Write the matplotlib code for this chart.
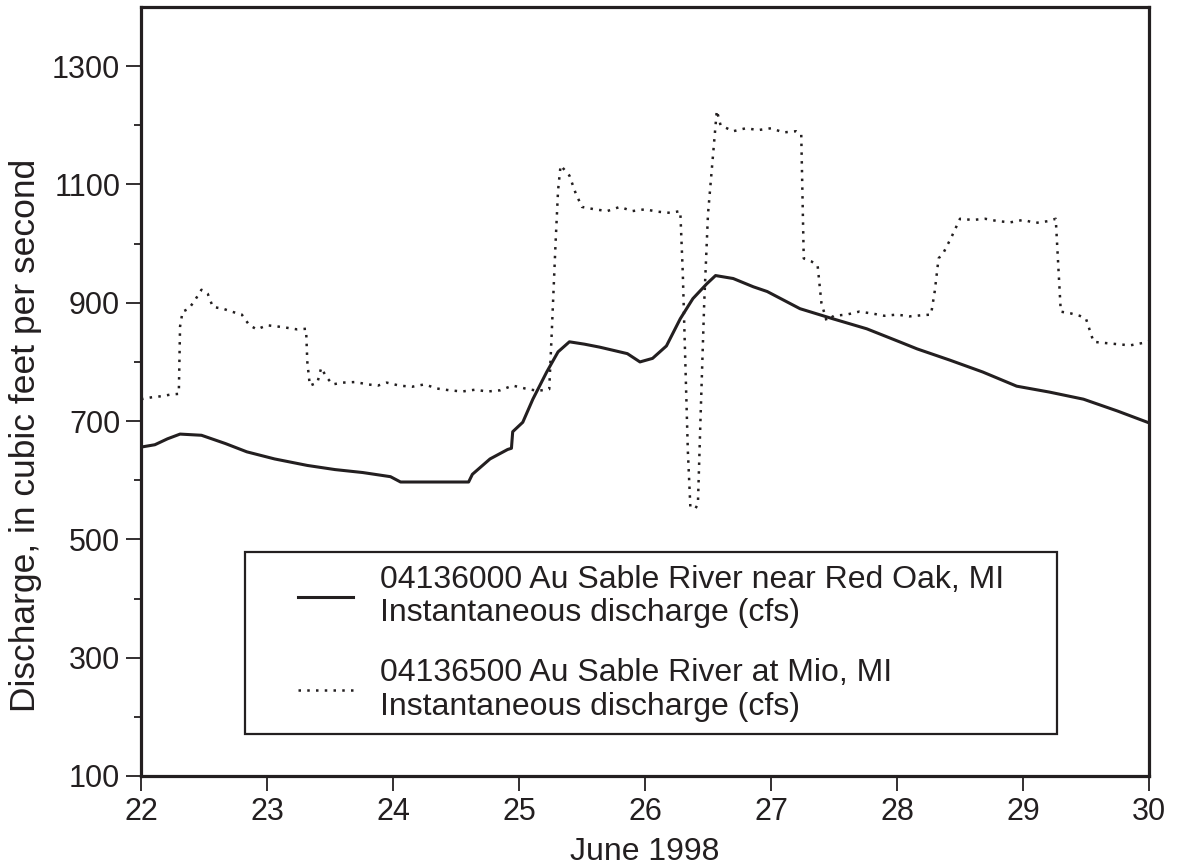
import matplotlib
matplotlib.use("Agg")
import matplotlib.pyplot as plt
from matplotlib.legend_handler import HandlerLine2D

plt.rcParams["font.family"] = ["Liberation Sans", "DejaVu Sans"]

INK = "#231f20"

# 04136000 Au Sable River near Red Oak, MI (day of June 1998, cfs)
red_oak_day = [22.00, 22.11, 22.21, 22.31, 22.48, 22.67, 22.84, 23.06, 23.32, 23.54,
               23.76, 23.98, 24.06, 24.60, 24.63, 24.77, 24.91, 24.94, 24.95, 25.03,
               25.11, 25.22, 25.31, 25.40, 25.52, 25.64, 25.86, 25.96, 26.06, 26.17,
               26.28, 26.38, 26.49, 26.56, 26.70, 26.86, 26.97, 27.23, 27.49, 27.76,
               28.02, 28.16, 28.42, 28.68, 28.95, 29.21, 29.48, 29.75, 30.00]
red_oak_cfs = [656, 660, 670, 678, 676, 662, 648, 636, 625, 618,
               613, 606, 597, 597, 610, 636, 652, 654, 682, 698,
               737, 783, 817, 834, 830, 825, 814, 800, 806, 827,
               873, 907, 932, 946, 941, 927, 919, 890, 873, 856,
               834, 822, 803, 783, 759, 749, 737, 717, 697]

# 04136500 Au Sable River at Mio, MI (day of June 1998, cfs)
mio_day = [22.00, 22.08, 22.16, 22.24, 22.30, 22.31, 22.33, 22.38, 22.43, 22.48,
           22.53, 22.57, 22.65, 22.72, 22.80, 22.86, 22.92, 23.00, 23.08, 23.15,
           23.24, 23.31, 23.32, 23.34, 23.40, 23.43, 23.47, 23.52, 23.60, 23.70,
           23.80, 23.88, 23.95, 24.05, 24.15, 24.25, 24.35, 24.45, 24.55, 24.65,
           24.75, 24.85, 24.95, 25.05, 25.15, 25.24, 25.26, 25.29, 25.31, 25.33,
           25.36, 25.40, 25.45, 25.50, 25.60, 25.70, 25.80, 25.90, 26.00, 26.10,
           26.20, 26.28, 26.30, 26.32, 26.34, 26.36, 26.40, 26.42, 26.44, 26.47,
           26.50, 26.54, 26.57, 26.60, 26.70, 26.80, 26.90, 27.00, 27.10, 27.20,
           27.24, 27.26, 27.32, 27.37, 27.40, 27.44, 27.50, 27.60, 27.70, 27.80,
           27.90, 28.00, 28.10, 28.20, 28.27, 28.30, 28.33, 28.37, 28.43, 28.50,
           28.60, 28.70, 28.80, 28.90, 29.00, 29.10, 29.20, 29.26, 29.28, 29.30,
           29.38, 29.45, 29.50, 29.56, 29.65, 29.75, 29.85, 29.95, 30.00]
mio_cfs = [737, 740, 742, 745, 746, 860, 885, 890, 905, 922,
           915, 893, 890, 885, 880, 862, 855, 862, 860, 858,
           855, 856, 800, 760, 765, 790, 775, 762, 765, 766,
           762, 760, 765, 760, 758, 762, 755, 752, 750, 753,
           750, 752, 760, 755, 751, 754, 850, 1000, 1090, 1132,
           1125, 1115, 1085, 1062, 1058, 1055, 1062, 1055, 1058, 1054,
           1052, 1055, 950, 800, 650, 555, 552, 560, 700, 900,
           1050, 1150, 1225, 1200, 1190, 1195, 1192, 1195, 1188, 1190,
           1185, 975, 970, 963, 900, 870, 878, 880, 885, 882,
           878, 880, 877, 879, 880, 920, 975, 985, 1010, 1042,
           1040, 1042, 1038, 1036, 1040, 1035, 1038, 1042, 963, 885,
           882, 878, 873, 834, 832, 830, 828, 832, 835]

x_ticks = [22, 23, 24, 25, 26, 27, 28, 29, 30]
y_ticks = [100, 300, 500, 700, 900, 1100, 1300]

labels = ["04136000 Au Sable River near Red Oak, MI\nInstantaneous discharge (cfs)",
          "04136500 Au Sable River at Mio, MI\nInstantaneous discharge (cfs)"]

fig = plt.figure(figsize=(11.77, 8.65), dpi=100)
ax = fig.add_axes([0.1198, 0.1029, 0.8564, 0.889])

ax.plot(red_oak_day, red_oak_cfs, color=INK, lw=2.2, label=labels[0])
ax.plot(mio_day, mio_cfs, color=INK, lw=1.8, linestyle=(0, (1, 2.5)), label=labels[1])

ax.set_xlim(22, 30)
ax.set_ylim(100, 1400)
ax.set_xticks(x_ticks)
ax.set_yticks(y_ticks)
ax.set_yticks(range(200, 1400, 200), minor=True)

for sp in ax.spines.values():
    sp.set_linewidth(2.3)
    sp.set_color(INK)

ax.tick_params(axis="both", which="major", direction="out", length=11, width=1.3,
               color=INK, labelsize=22, labelcolor=INK, pad=4)
ax.tick_params(axis="y", which="minor", direction="out", length=5, width=1.3, color=INK)

ax.set_xlabel("June 1998", fontsize=23, color=INK, labelpad=7)
ax.set_ylabel("Discharge, in cubic feet per second", fontsize=25.5, color=INK)
ax.yaxis.set_label_coords(-0.098, 0.443)

leg = ax.legend(loc="upper left", bbox_to_anchor=(0.1032, 0.2913, 0.8055, 0.0), mode="expand",
                borderaxespad=0.0, fontsize=23, frameon=True, fancybox=False, framealpha=1.0,
                borderpad=0.4, handlelength=2.98, handletextpad=0.85, labelspacing=0.95,
                handler_map={plt.Line2D: HandlerLine2D(xpad=1.25)})
leg.get_frame().set_edgecolor(INK)
leg.get_frame().set_linewidth(1.6)
for t in leg.get_texts():
    t.set_color(INK)
    t.set_linespacing(1.14)

fig.savefig("out.png", dpi=100)
